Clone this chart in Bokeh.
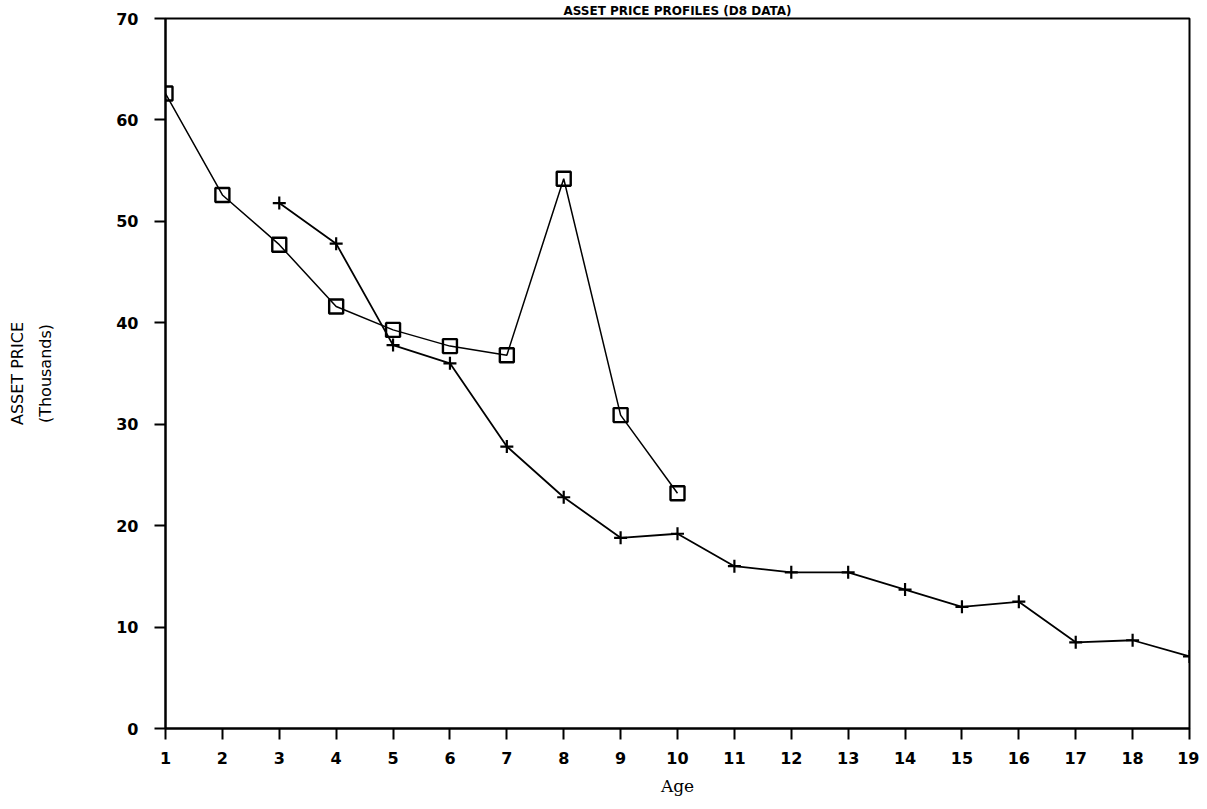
from bokeh.plotting import figure
from bokeh.models import FixedTicker
from bokeh.embed import file_html
from bokeh.resources import INLINE

# asset price by age, thousands
square_ages = [1, 2, 3, 4, 5, 6, 7, 8, 9, 10]
square_price = [62.6, 52.6, 47.7, 41.6, 39.3, 37.7, 36.8, 54.2, 30.9, 23.2]
plus_ages = [3, 4, 5, 6, 7, 8, 9, 10, 11, 12, 13, 14, 15, 16, 17, 18, 19]
plus_price = [51.8, 47.8, 37.8, 36.0, 27.8, 22.8, 18.8, 19.2, 16.0, 15.4,
              15.4, 13.7, 12.0, 12.5, 8.5, 8.7, 7.1]
age_ticks = list(range(1, 20))
price_ticks = [0, 10, 20, 30, 40, 50, 60, 70]

p = figure(width=1199, height=801, x_range=(1, 19), y_range=(0, 70),
           output_backend="svg", toolbar_location=None,
           title="ASSET PRICE PROFILES (D8 DATA)",
           min_border_left=165, min_border_right=10,
           min_border_top=4, min_border_bottom=73)

p.title.align = "center"
p.title.text_font = "DejaVu Sans"
p.title.text_font_size = "12px"
p.title.text_font_style = "bold"
p.title.text_color = "black"
p.title.standoff = 2

p.grid.visible = False
p.outline_line_color = "black"
p.outline_line_width = 2
p.background_fill_color = "white"
p.border_fill_color = "white"

p.line(square_ages, square_price, line_color="black", line_width=1.5)
p.scatter(square_ages, square_price, marker="square", size=14,
          fill_color=None, line_color="black", line_width=2.4)
p.line(plus_ages, plus_price, line_color="black", line_width=1.8)
p.scatter(plus_ages, plus_price, marker="cross", size=13,
          line_color="black", line_width=2.2)

xa = p.xaxis[0]
xa.ticker = FixedTicker(ticks=age_ticks)
xa.axis_label = "Age"
xa.axis_label_text_font = "DejaVu Serif"
xa.axis_label_text_font_style = "normal"
xa.axis_label_text_font_size = "17px"
xa.axis_label_standoff = 9
xa.major_label_standoff = 12

ya = p.yaxis[0]
ya.ticker = FixedTicker(ticks=price_ticks)
ya.major_label_standoff = 16
ya.axis_label = "ASSET PRICE\n(Thousands)"
ya.axis_label_text_font = "DejaVu Sans"
ya.axis_label_text_font_style = "normal"
ya.axis_label_text_font_size = "16px"
ya.axis_label_text_line_height = 1.5
ya.axis_label_standoff = 58

for ax in (xa, ya):
    ax.axis_line_color = "black"
    ax.axis_line_width = 2
    ax.major_tick_line_color = "black"
    ax.major_tick_line_width = 2
    ax.major_tick_in = 0
    ax.major_tick_out = 11
    ax.minor_tick_line_color = None
    ax.major_label_text_font = "DejaVu Sans"
    ax.major_label_text_font_style = "bold"
    ax.major_label_text_font_size = "16px"
    ax.major_label_text_color = "black"
    ax.axis_label_text_color = "black"

open("out.html", "w").write(file_html(p, INLINE))
